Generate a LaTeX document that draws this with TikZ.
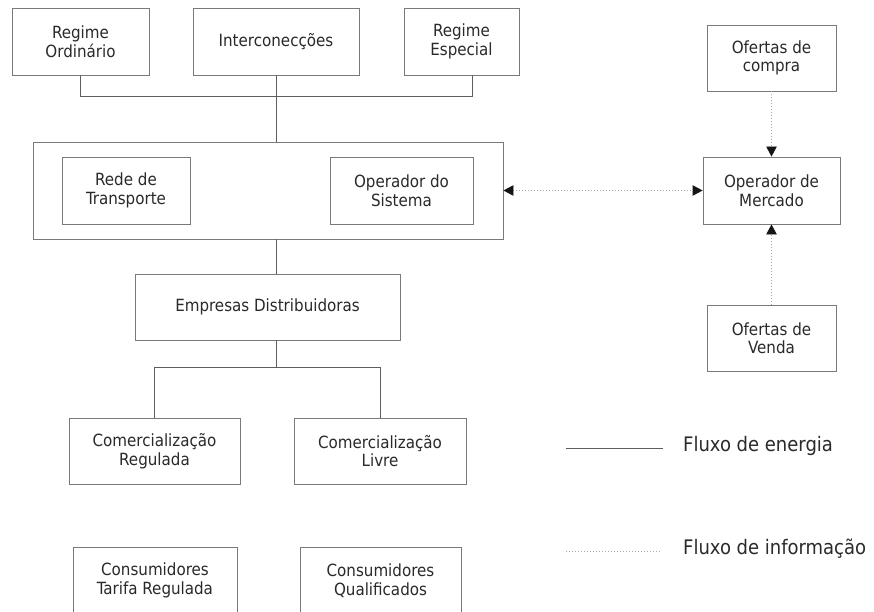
\documentclass[tikz,border=0pt]{standalone}
\usepackage{fontspec}
\setmainfont{DejaVu Sans Condensed}
\usetikzlibrary{arrows.meta}
\definecolor{boxgray}{HTML}{7A7A7A}
\definecolor{wiregray}{HTML}{5E5E5E}
\definecolor{infogray}{HTML}{A8A8A8}
\definecolor{textgray}{HTML}{2A2A2A}
\definecolor{tipgray}{HTML}{151515}
\tikzset{
  ent/.style={draw=boxgray, line width=0.9pt, fill=white, align=center,
    inner sep=0pt, text=textgray, font=\fontsize{16.8}{18.5}\selectfont},
  energy/.style={draw=wiregray, line width=1pt},
  info/.style={draw=infogray, line width=0.9pt, dash pattern=on 1pt off 2pt},
  infotip/.tip={Triangle[length=10pt, width=10.5pt, color=tipgray]},
  legtext/.style={anchor=west, inner sep=0pt, text=textgray,
    font=\fontsize{20}{22}\selectfont}
}
\begin{document}
\begin{tikzpicture}[x=1pt, y=-1pt]
\useasboundingbox (0,0) rectangle (874,612);
\clip (0,0) rectangle (874,612);

% generation side
\node[ent, minimum width=137pt, minimum height=67pt] (ro) at (80.5,41.5) {Regime\\Ordinário};
\node[ent, minimum width=166pt, minimum height=67pt] (ic) at (276,41.5) {Interconecções};
\node[ent, minimum width=115pt, minimum height=67pt] (re) at (461.5,41.5) {Regime\\Especial};

% transmission block
\node[ent, minimum width=470pt, minimum height=97pt] (big) at (268,190.5) {};
\node[ent, minimum width=128pt, minimum height=67pt] (rt) at (126,190.5) {Rede de\\Transporte};
\node[ent, minimum width=143pt, minimum height=67pt] (os) at (401.5,190.5) {Operador do\\Sistema};

% distribution and retail
\node[ent, minimum width=265pt, minimum height=66pt] (ed) at (267.5,307) {Empresas Distribuidoras};
\node[ent, minimum width=171pt, minimum height=66pt] (cr) at (154.5,451) {Comercialização\\Regulada};
\node[ent, minimum width=172pt, minimum height=66pt] (cl) at (380,451) {Comercialização\\Livre};
\node[ent, minimum width=164pt, minimum height=67pt] (ctr) at (155,580.5) {Consumidores\\Tarifa Regulada};
\node[ent, minimum width=161pt, minimum height=67pt] (cq) at (380.5,580.5) {Consumidores\\Qualificados};

% market
\node[ent, minimum width=129pt, minimum height=66pt] (oc) at (771.5,58) {Ofertas de\\compra};
\node[ent, minimum width=137pt, minimum height=67pt] (om) at (771.5,190.5) {Operador de\\Mercado};
\node[ent, minimum width=129pt, minimum height=66pt] (ov) at (771.5,338) {Ofertas de\\Venda};

% energy flow
\coordinate (topbus) at (276,97);
\coordinate (botbus) at (276,367);
\draw[energy] (ro.south) |- (topbus);
\draw[energy] ([xshift=10.5pt]re.south) |- (topbus);
\draw[energy] (ic.south) -- (big.north -| ic.south);
\draw[energy] (big.south -| ic.south) -- (ed.north -| ic.south);
\draw[energy] (ed.south -| botbus) -- (botbus);
\draw[energy] (cr.north) |- (botbus);
\draw[energy] (cl.north) |- (botbus);

% information flow
\draw[info, infotip-infotip] (big.east) -- (om.west);
\draw[info, -infotip] (oc.south) -- (om.north);
\draw[info, -infotip] (ov.north) -- (om.south);

% legend
\coordinate (la1) at (566,448);
\coordinate (la2) at (663,448);
\coordinate (lb1) at (566,551);
\coordinate (lb2) at (660,551);
\draw[energy] (la1) -- (la2);
\node[legtext] (lat) at (683,446) {Fluxo de energia};
\draw[info] (lb1) -- (lb2);
\node[legtext] (lbt) at (683,549) {Fluxo de informação};
\end{tikzpicture}
\end{document}
